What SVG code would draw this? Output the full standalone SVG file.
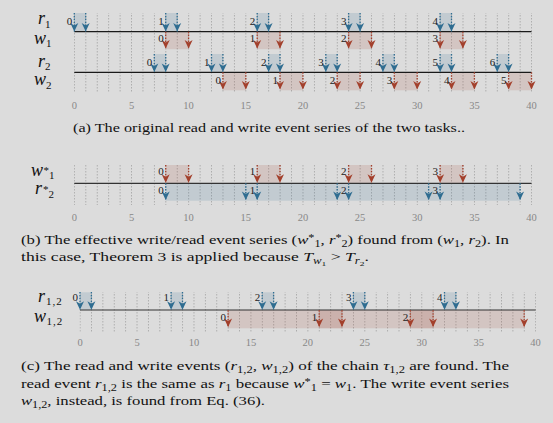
<svg xmlns="http://www.w3.org/2000/svg" width="553" height="423" viewBox="0 0 553 423">
<style>
.bg{fill:#dcdcdc}
.ax{stroke:#1a1a1a;stroke-width:1.2}
.sb{stroke:#2f6d91;stroke-width:1.3;stroke-dasharray:1.5 1.4;marker-end:url(#hb)}
.sr{stroke:#a3402c;stroke-width:1.3;stroke-dasharray:1.5 1.4;marker-end:url(#hr)}
.shb{fill:#2f6d91;fill-opacity:.15}
.shr{fill:#a3402c;fill-opacity:.15}
.n{font-family:"Liberation Serif",serif;font-size:11px;fill:#222;text-anchor:end}
.tk{font-family:"Liberation Serif",serif;font-size:10.5px;fill:#888;text-anchor:middle}
.lab{font-family:"Liberation Serif",serif;font-style:italic;font-size:18px;fill:#111}
.lsub{font-style:normal;font-size:11px}
.st{font-style:normal;font-size:11px}
.cap{font-family:"Liberation Serif",serif;font-size:13px;fill:#111}
.it{font-style:italic}
.s{font-size:9.5px}
.ss{font-size:7px}
</style>
<defs>
<marker id="hb" viewBox="-9 -5 10 10" refX="0" refY="0" markerWidth="10" markerHeight="10" markerUnits="userSpaceOnUse" orient="auto"><path d="M0,0 L-8.5,-4 L-6,0 L-8.5,4 Z" fill="#2f6d91"/></marker>
<marker id="hr" viewBox="-9 -5 10 10" refX="0" refY="0" markerWidth="10" markerHeight="10" markerUnits="userSpaceOnUse" orient="auto"><path d="M0,0 L-8.5,-4 L-6,0 L-8.5,4 Z" fill="#a3402c"/></marker>
<pattern id="gA" x="73.9" y="0" width="11.43" height="3" patternUnits="userSpaceOnUse"><rect width="0.8" height="1.5" fill="#a2a2a2"/></pattern>
<pattern id="gC" x="79.6" y="0" width="11.39" height="3" patternUnits="userSpaceOnUse"><rect width="0.8" height="1.5" fill="#a2a2a2"/></pattern>
</defs>
<rect class="bg" x="0" y="0" width="553" height="423"/>

<!-- Panel (a) -->
<g id="panel-a">
<rect x="73.9" y="13" width="458.2" height="80" fill="url(#gA)"/>
<g id="r1">
<rect class="shb" x="74.3" y="13" width="11.43" height="18.7"/>
<rect class="shb" x="165.7" y="13" width="11.43" height="18.7"/>
<rect class="shb" x="257.2" y="13" width="11.43" height="18.7"/>
<rect class="shb" x="348.6" y="13" width="11.43" height="18.7"/>
<rect class="shb" x="440.1" y="13" width="11.43" height="18.7"/>
</g>
<g id="w1">
<rect class="shr" x="165.7" y="31.7" width="22.86" height="17.5"/>
<rect class="shr" x="257.2" y="31.7" width="22.86" height="17.5"/>
<rect class="shr" x="348.6" y="31.7" width="22.86" height="17.5"/>
<rect class="shr" x="440.1" y="31.7" width="22.86" height="17.5"/>
</g>
<g id="r2">
<rect class="shb" x="154.3" y="54" width="11.43" height="18.3"/>
<rect class="shb" x="211.5" y="54" width="11.43" height="18.3"/>
<rect class="shb" x="268.6" y="54" width="11.43" height="18.3"/>
<rect class="shb" x="325.8" y="54" width="11.43" height="18.3"/>
<rect class="shb" x="382.9" y="54" width="11.43" height="18.3"/>
<rect class="shb" x="440.1" y="54" width="11.43" height="18.3"/>
<rect class="shb" x="497.2" y="54" width="11.43" height="18.3"/>
</g>
<g id="w2">
<rect class="shr" x="222.9" y="72.3" width="22.86" height="18"/>
<rect class="shr" x="280.0" y="72.3" width="22.86" height="18"/>
<rect class="shr" x="337.2" y="72.3" width="22.86" height="18"/>
<rect class="shr" x="394.3" y="72.3" width="22.86" height="18"/>
<rect class="shr" x="451.5" y="72.3" width="22.86" height="18"/>
<rect class="shr" x="508.6" y="72.3" width="22.86" height="18"/>
</g>
<line class="ax" x1="74.3" y1="31.7" x2="531.5" y2="31.7"/>
<line class="ax" x1="74.3" y1="72.3" x2="531.5" y2="72.3"/>
<g id="r1-events">
<line class="sb" x1="74.3" y1="13" x2="74.3" y2="31.5"/><line class="sb" x1="85.7" y1="13" x2="85.7" y2="31.5"/>
<line class="sb" x1="165.7" y1="13" x2="165.7" y2="31.5"/><line class="sb" x1="177.2" y1="13" x2="177.2" y2="31.5"/>
<line class="sb" x1="257.2" y1="13" x2="257.2" y2="31.5"/><line class="sb" x1="268.6" y1="13" x2="268.6" y2="31.5"/>
<line class="sb" x1="348.6" y1="13" x2="348.6" y2="31.5"/><line class="sb" x1="360.1" y1="13" x2="360.1" y2="31.5"/>
<line class="sb" x1="440.1" y1="13" x2="440.1" y2="31.5"/><line class="sb" x1="451.5" y1="13" x2="451.5" y2="31.5"/>
<text class="n" x="72.3" y="25">0</text><text class="n" x="163.7" y="25">1</text><text class="n" x="255.2" y="25">2</text><text class="n" x="346.6" y="25">3</text><text class="n" x="438.1" y="25">4</text>
</g>
<g id="w1-events">
<line class="sr" x1="165.7" y1="31.7" x2="165.7" y2="48.5"/><line class="sr" x1="188.6" y1="31.7" x2="188.6" y2="48.5"/>
<line class="sr" x1="257.2" y1="31.7" x2="257.2" y2="48.5"/><line class="sr" x1="280.0" y1="31.7" x2="280.0" y2="48.5"/>
<line class="sr" x1="348.6" y1="31.7" x2="348.6" y2="48.5"/><line class="sr" x1="371.5" y1="31.7" x2="371.5" y2="48.5"/>
<line class="sr" x1="440.1" y1="31.7" x2="440.1" y2="48.5"/><line class="sr" x1="462.9" y1="31.7" x2="462.9" y2="48.5"/>
<text class="n" x="163.7" y="42">0</text><text class="n" x="255.2" y="42">1</text><text class="n" x="346.6" y="42">2</text><text class="n" x="438.1" y="42">3</text>
</g>
<g id="r2-events">
<line class="sb" x1="154.3" y1="54" x2="154.3" y2="72"/><line class="sb" x1="165.7" y1="54" x2="165.7" y2="72"/>
<line class="sb" x1="211.5" y1="54" x2="211.5" y2="72"/><line class="sb" x1="222.9" y1="54" x2="222.9" y2="72"/>
<line class="sb" x1="268.6" y1="54" x2="268.6" y2="72"/><line class="sb" x1="280.0" y1="54" x2="280.0" y2="72"/>
<line class="sb" x1="325.8" y1="54" x2="325.8" y2="72"/><line class="sb" x1="337.2" y1="54" x2="337.2" y2="72"/>
<line class="sb" x1="382.9" y1="54" x2="382.9" y2="72"/><line class="sb" x1="394.3" y1="54" x2="394.3" y2="72"/>
<line class="sb" x1="440.1" y1="54" x2="440.1" y2="72"/><line class="sb" x1="451.5" y1="54" x2="451.5" y2="72"/>
<line class="sb" x1="497.2" y1="54" x2="497.2" y2="72"/><line class="sb" x1="508.6" y1="54" x2="508.6" y2="72"/>
<text class="n" x="152.3" y="65.5">0</text><text class="n" x="209.5" y="65.5">1</text><text class="n" x="266.6" y="65.5">2</text><text class="n" x="323.8" y="65.5">3</text><text class="n" x="380.9" y="65.5">4</text><text class="n" x="438.1" y="65.5">5</text><text class="n" x="495.2" y="65.5">6</text>
</g>
<g id="w2-events">
<line class="sr" x1="222.9" y1="72.3" x2="222.9" y2="89.5"/><line class="sr" x1="245.8" y1="72.3" x2="245.8" y2="89.5"/>
<line class="sr" x1="280.0" y1="72.3" x2="280.0" y2="89.5"/><line class="sr" x1="302.9" y1="72.3" x2="302.9" y2="89.5"/>
<line class="sr" x1="337.2" y1="72.3" x2="337.2" y2="89.5"/><line class="sr" x1="360.1" y1="72.3" x2="360.1" y2="89.5"/>
<line class="sr" x1="394.3" y1="72.3" x2="394.3" y2="89.5"/><line class="sr" x1="417.2" y1="72.3" x2="417.2" y2="89.5"/>
<line class="sr" x1="451.5" y1="72.3" x2="451.5" y2="89.5"/><line class="sr" x1="474.4" y1="72.3" x2="474.4" y2="89.5"/>
<line class="sr" x1="508.6" y1="72.3" x2="508.6" y2="89.5"/><line class="sr" x1="531.5" y1="72.3" x2="531.5" y2="89.5"/>
<text class="n" x="220.9" y="83.5">0</text><text class="n" x="278.0" y="83.5">1</text><text class="n" x="335.2" y="83.5">2</text><text class="n" x="392.3" y="83.5">3</text><text class="n" x="449.5" y="83.5">4</text><text class="n" x="506.6" y="83.5">5</text>
</g>
<g id="labels-a">
<text class="lab" x="38" y="24">r<tspan class="lsub" dy="3.5">1</tspan></text>
<text class="lab" x="34" y="43.5">w<tspan class="lsub" dy="3.5">1</tspan></text>
<text class="lab" x="38" y="66.5">r<tspan class="lsub" dy="3.5">2</tspan></text>
<text class="lab" x="34" y="85">w<tspan class="lsub" dy="3.5">2</tspan></text>
</g>
<g id="axis-a">
<text class="tk" x="74.3" y="108.5">0</text><text class="tk" x="131.5" y="108.5">5</text><text class="tk" x="188.6" y="108.5">10</text><text class="tk" x="245.8" y="108.5">15</text><text class="tk" x="302.9" y="108.5">20</text><text class="tk" x="360.1" y="108.5">25</text><text class="tk" x="417.2" y="108.5">30</text><text class="tk" x="474.4" y="108.5">35</text><text class="tk" x="531.5" y="108.5">40</text>
</g>
<text class="cap" x="73" y="131.5" textLength="392" lengthAdjust="spacingAndGlyphs">(a) The original read and write event series of the two tasks..</text>
</g>

<!-- Panel (b) -->
<g id="panel-b">
<rect x="73.9" y="165" width="458.2" height="40" fill="url(#gA)"/>
<g id="w1star">
<rect class="shr" x="165.7" y="165" width="22.86" height="18.3"/>
<rect class="shr" x="257.2" y="165" width="22.86" height="18.3"/>
<rect class="shr" x="348.6" y="165" width="22.86" height="18.3"/>
<rect class="shr" x="440.1" y="165" width="22.86" height="18.3"/>
</g>
<g id="r2star">
<rect class="shb" x="165.7" y="183.3" width="354.4" height="17.4"/>
</g>
<line class="ax" x1="74.3" y1="183.3" x2="531.5" y2="183.3" style="stroke:#333"/>
<g id="w1star-events">
<line class="sr" x1="165.7" y1="165" x2="165.7" y2="182.8"/><line class="sr" x1="188.6" y1="165" x2="188.6" y2="182.8"/>
<line class="sr" x1="257.2" y1="165" x2="257.2" y2="182.8"/><line class="sr" x1="280.0" y1="165" x2="280.0" y2="182.8"/>
<line class="sr" x1="348.6" y1="165" x2="348.6" y2="182.8"/><line class="sr" x1="371.5" y1="165" x2="371.5" y2="182.8"/>
<line class="sr" x1="440.1" y1="165" x2="440.1" y2="182.8"/><line class="sr" x1="462.9" y1="165" x2="462.9" y2="182.8"/>
<text class="n" x="163.7" y="175">0</text><text class="n" x="255.2" y="175">1</text><text class="n" x="346.6" y="175">2</text><text class="n" x="438.1" y="175">3</text>
</g>
<g id="r2star-events">
<line class="sb" x1="165.7" y1="183.3" x2="165.7" y2="200"/><line class="sb" x1="245.8" y1="183.3" x2="245.8" y2="200"/>
<line class="sb" x1="257.2" y1="183.3" x2="257.2" y2="200"/><line class="sb" x1="337.2" y1="183.3" x2="337.2" y2="200"/>
<line class="sb" x1="348.6" y1="183.3" x2="348.6" y2="200"/><line class="sb" x1="428.6" y1="183.3" x2="428.6" y2="200"/>
<line class="sb" x1="440.1" y1="183.3" x2="440.1" y2="200"/><line class="sb" x1="520.1" y1="183.3" x2="520.1" y2="200"/>
<text class="n" x="163.7" y="194">0</text><text class="n" x="255.2" y="194">1</text><text class="n" x="346.6" y="194">2</text><text class="n" x="438.1" y="194">3</text>
</g>
<g id="labels-b">
<text class="lab" x="31" y="175.5">w<tspan class="st" dx="0.5" dy="-1.5">*</tspan><tspan class="lsub" dy="5">1</tspan></text>
<text class="lab" x="35" y="194">r<tspan class="st" dx="1" dy="-1.5">*</tspan><tspan class="lsub" dy="5.5">2</tspan></text>
</g>
<g id="axis-b">
<text class="tk" x="74.3" y="220.5">0</text><text class="tk" x="131.5" y="220.5">5</text><text class="tk" x="188.6" y="220.5">10</text><text class="tk" x="245.8" y="220.5">15</text><text class="tk" x="302.9" y="220.5">20</text><text class="tk" x="360.1" y="220.5">25</text><text class="tk" x="417.2" y="220.5">30</text><text class="tk" x="474.4" y="220.5">35</text><text class="tk" x="531.5" y="220.5">40</text>
</g>
<text class="cap" x="21" y="243.5" textLength="488" lengthAdjust="spacingAndGlyphs">(b) The effective write/read event series (<tspan class="it">w</tspan><tspan class="s" dy="-2.5">*</tspan><tspan class="s" dy="5.5">1</tspan><tspan dy="-3">, </tspan><tspan class="it">r</tspan><tspan class="s" dy="-2.5">*</tspan><tspan class="s" dy="5.5">2</tspan><tspan dy="-3">) found from (</tspan><tspan class="it">w</tspan><tspan class="s" dy="3">1</tspan><tspan dy="-3">, </tspan><tspan class="it">r</tspan><tspan class="s" dy="3">2</tspan><tspan dy="-3">). In</tspan></text>
<text class="cap" x="21" y="261" textLength="348" lengthAdjust="spacingAndGlyphs">this case, Theorem 3 is applied because <tspan class="it">T</tspan><tspan class="s it" dy="3">w</tspan><tspan class="ss" dy="1.5">1</tspan><tspan dy="-4.5"> &gt; </tspan><tspan class="it">T</tspan><tspan class="s it" dy="3">r</tspan><tspan class="ss" dy="1.5">2</tspan><tspan dy="-4.5">.</tspan></text>
</g>

<!-- Panel (c) -->
<g id="panel-c">
<rect x="79.6" y="292" width="456.4" height="40" fill="url(#gC)"/>
<g id="r12">
<rect class="shb" x="80" y="292.3" width="11.39" height="17.7"/>
<rect class="shb" x="171.1" y="292.3" width="11.39" height="17.7"/>
<rect class="shb" x="262.2" y="292.3" width="11.39" height="17.7"/>
<rect class="shb" x="353.4" y="292.3" width="11.39" height="17.7"/>
<rect class="shb" x="444.5" y="292.3" width="11.39" height="17.7"/>
</g>
<g id="w12">
<rect class="shr" x="228.1" y="310" width="113.9" height="18.3"/>
<rect class="shr" x="319.2" y="310" width="113.9" height="18.3"/>
<rect class="shr" x="410.3" y="310" width="113.9" height="18.3"/>
</g>
<line class="ax" x1="80" y1="310" x2="535.6" y2="310" style="stroke:#333"/>
<g id="r12-events">
<line class="sb" x1="80" y1="292" x2="80" y2="309.7"/><line class="sb" x1="91.4" y1="292" x2="91.4" y2="309.7"/>
<line class="sb" x1="171.1" y1="292" x2="171.1" y2="309.7"/><line class="sb" x1="182.5" y1="292" x2="182.5" y2="309.7"/>
<line class="sb" x1="262.2" y1="292" x2="262.2" y2="309.7"/><line class="sb" x1="273.6" y1="292" x2="273.6" y2="309.7"/>
<line class="sb" x1="353.4" y1="292" x2="353.4" y2="309.7"/><line class="sb" x1="364.8" y1="292" x2="364.8" y2="309.7"/>
<line class="sb" x1="444.5" y1="292" x2="444.5" y2="309.7"/><line class="sb" x1="455.9" y1="292" x2="455.9" y2="309.7"/>
<text class="n" x="78" y="301">0</text><text class="n" x="169.1" y="301">1</text><text class="n" x="260.2" y="301">2</text><text class="n" x="351.4" y="301">3</text><text class="n" x="442.5" y="301">4</text>
</g>
<g id="w12-events">
<line class="sr" x1="228.1" y1="310.3" x2="228.1" y2="327"/>
<line class="sr" x1="319.2" y1="310.3" x2="319.2" y2="327"/><line class="sr" x1="342.0" y1="310.3" x2="342.0" y2="327"/>
<line class="sr" x1="410.3" y1="310.3" x2="410.3" y2="327"/><line class="sr" x1="433.1" y1="310.3" x2="433.1" y2="327"/>
<line class="sr" x1="524.2" y1="310.3" x2="524.2" y2="327"/>
<text class="n" x="226.1" y="320.5">0</text><text class="n" x="317.2" y="320.5">1</text><text class="n" x="408.3" y="320.5">2</text>
</g>
<g id="labels-c">
<text class="lab" x="38" y="301.5">r<tspan class="lsub" dx="1" dy="3.5" letter-spacing="1">1,2</tspan></text>
<text class="lab" x="34" y="321.5">w<tspan class="lsub" dx="0.5" dy="3.5" letter-spacing="1">1,2</tspan></text>
</g>
<g id="axis-c">
<text class="tk" x="80" y="345.5">0</text><text class="tk" x="137" y="345.5">5</text><text class="tk" x="193.9" y="345.5">10</text><text class="tk" x="250.9" y="345.5">15</text><text class="tk" x="307.8" y="345.5">20</text><text class="tk" x="364.8" y="345.5">25</text><text class="tk" x="421.7" y="345.5">30</text><text class="tk" x="478.7" y="345.5">35</text><text class="tk" x="535.6" y="345.5">40</text>
</g>
<text class="cap" x="21" y="369.5" textLength="488" lengthAdjust="spacingAndGlyphs">(c) The read and write events (<tspan class="it">r</tspan><tspan class="s" dy="3">1,2</tspan><tspan dy="-3">, </tspan><tspan class="it">w</tspan><tspan class="s" dy="3">1,2</tspan><tspan dy="-3">) of the chain </tspan><tspan class="it">τ</tspan><tspan class="s" dy="3">1,2</tspan><tspan dy="-3"> are found. The</tspan></text>
<text class="cap" x="21" y="387.5" textLength="488" lengthAdjust="spacingAndGlyphs">read event <tspan class="it">r</tspan><tspan class="s" dy="3">1,2</tspan><tspan dy="-3"> is the same as </tspan><tspan class="it">r</tspan><tspan class="s" dy="3">1</tspan><tspan dy="-3"> because </tspan><tspan class="it">w</tspan><tspan class="s" dy="-2.5">*</tspan><tspan class="s" dy="5.5">1</tspan><tspan dy="-3"> = </tspan><tspan class="it">w</tspan><tspan class="s" dy="3">1</tspan><tspan dy="-3">. The write event series</tspan></text>
<text class="cap" x="21" y="405" textLength="244" lengthAdjust="spacingAndGlyphs"><tspan class="it">w</tspan><tspan class="s" dy="3">1,2</tspan><tspan dy="-3">, instead, is found from Eq. (36).</tspan></text>
</g>
</svg>
